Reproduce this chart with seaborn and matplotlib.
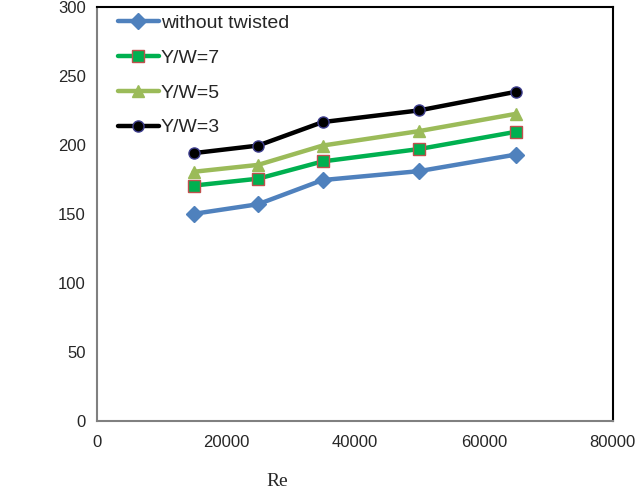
import pandas as pd
import matplotlib.pyplot as plt
import seaborn as sns

re_values = [15000, 25000, 35000, 50000, 65000]
without_twisted = [150, 157, 174.5, 181, 193]
yw7 = [170.5, 175.5, 188, 197, 209.5]
yw5 = [180.5, 185.5, 199.5, 210, 222.5]
yw3 = [194, 199.5, 216.5, 225, 238.5]

series = [
    ('without twisted', without_twisted, '#4F81BD', 'D', '#4F81BD', 8),
    ('Y/W=7', yw7, '#00B050', 's', '#C0504D', 8),
    ('Y/W=5', yw5, '#9BBB59', '^', '#9BBB59', 9),
    ('Y/W=3', yw3, '#000000', 'o', '#3F3F8F', 8),
]

sns.set_style('white')
plt.rcParams['font.family'] = ['Liberation Sans', 'DejaVu Sans']

fig = plt.figure(figsize=(6.37, 4.9), dpi=100)
ax = fig.add_axes([0.152, 0.141, 0.81, 0.845])

for name, vals, color, marker, edge, ms in series:
    df = pd.DataFrame({'Re': re_values, 'val': vals})
    sns.lineplot(data=df, x='Re', y='val', ax=ax, color=color, lw=3.2,
                 marker=marker, markersize=ms, markeredgecolor=edge,
                 markeredgewidth=1, label=name)

ax.set_xlim(0, 80000)
ax.set_ylim(0, 300)
ax.set_xticks([0, 20000, 40000, 60000, 80000])
ax.set_yticks(range(0, 301, 50))
ax.tick_params(axis='both', direction='in', length=4, color='#808080',
               labelsize=12, pad=8)
ax.tick_params(axis='x', pad=10)
for s in ['left', 'bottom']:
    ax.spines[s].set_color('#808080')
    ax.spines[s].set_linewidth(1.5)
for s in ['top', 'right']:
    ax.spines[s].set_color('#000000')
    ax.spines[s].set_linewidth(1.5)

ax.set_xlabel('Re', family='Liberation Serif', fontsize=14)
ax.xaxis.set_label_coords(0.35, -0.125)
ax.set_ylabel('')

ax.legend(loc='upper left', frameon=False, fontsize=14, labelspacing=0.88,
          handlelength=2.1, handletextpad=0.1, borderaxespad=0.0,
          bbox_to_anchor=(0.026, 1.0))

plt.savefig('out.png', dpi=100)
